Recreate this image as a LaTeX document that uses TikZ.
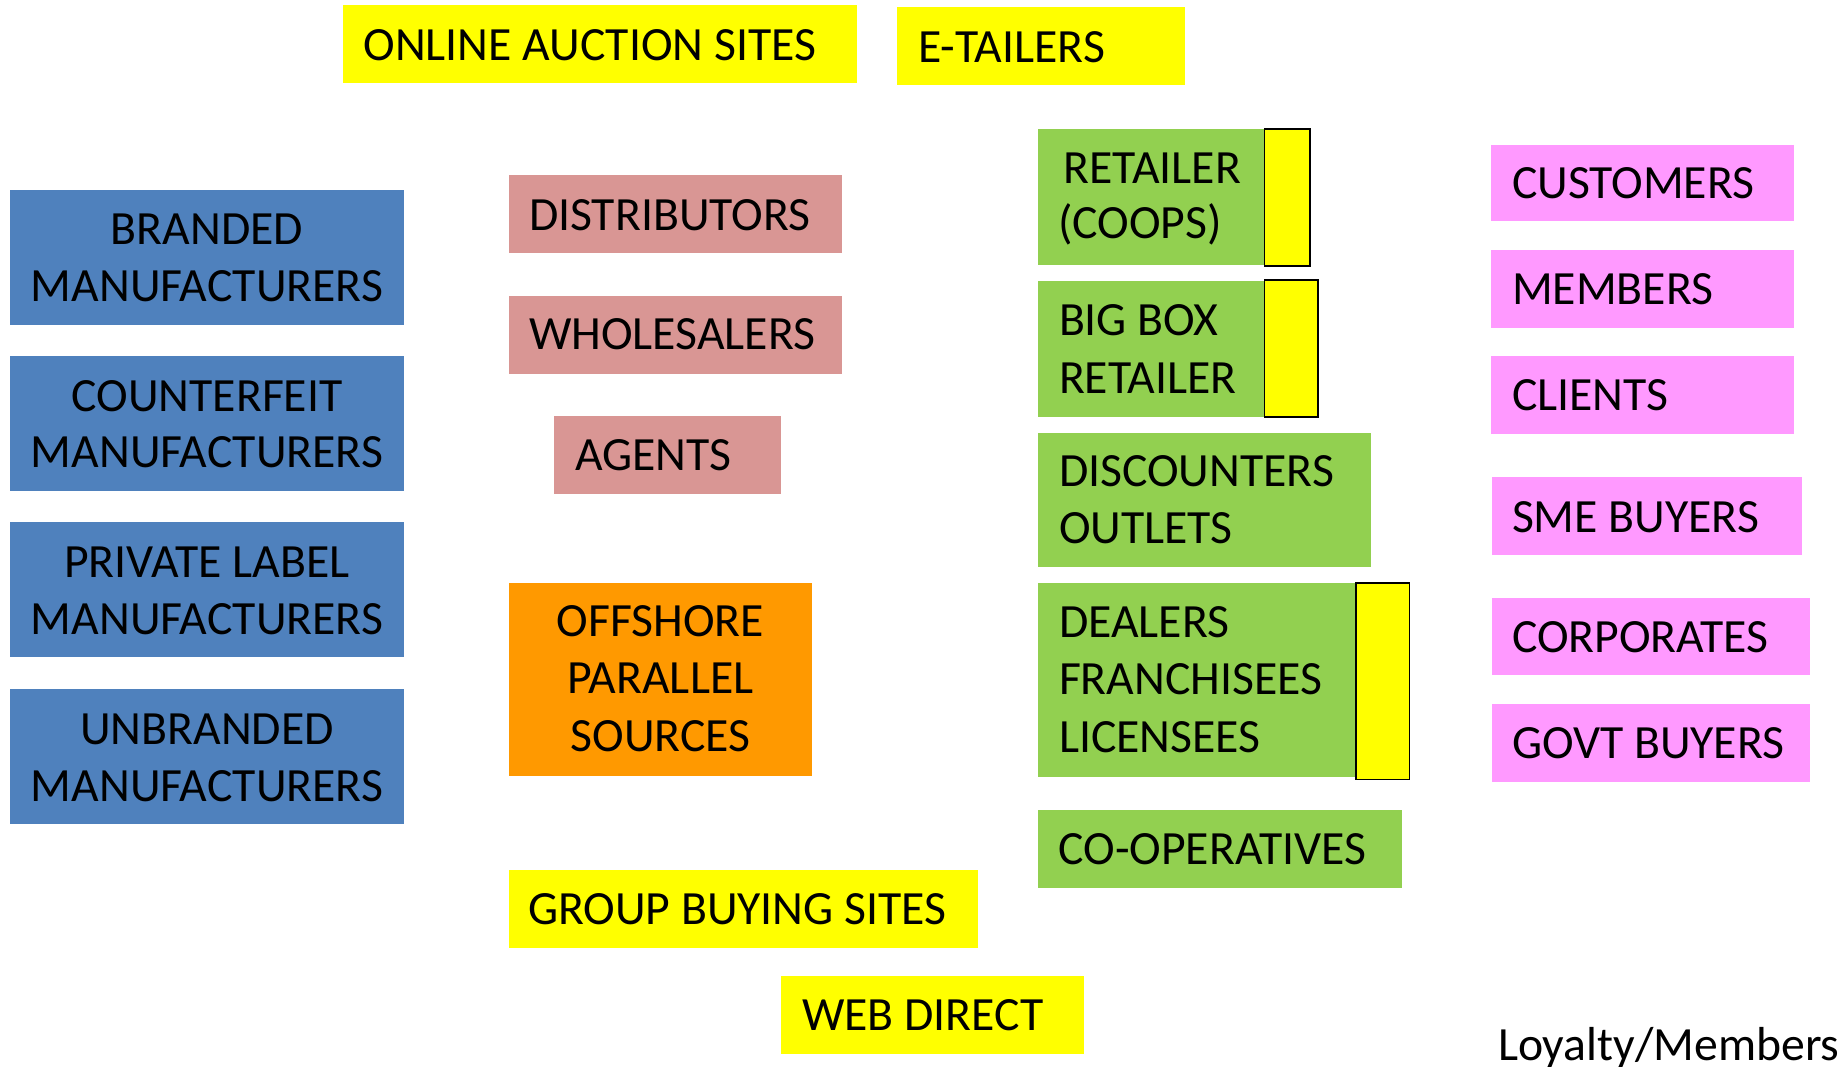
\documentclass[tikz,border=0pt]{standalone}
\usepackage{fontspec}
\setmainfont{Carlito}
\definecolor{cblue}{HTML}{4F81BD}
\definecolor{cpink}{HTML}{D99694}
\definecolor{corange}{HTML}{FF9900}
\definecolor{cgreen}{HTML}{92D050}
\definecolor{cyellow}{HTML}{FFFF00}
\definecolor{cmagenta}{HTML}{FF99FF}
\begin{document}
\begin{tikzpicture}[x=1pt,y=-1pt,
  blk/.style={inner sep=0pt, outer sep=0pt, anchor=north west},
  txt/.style={font=\fontsize{47.7}{57}\selectfont, inner sep=0pt, outer sep=0pt, anchor=base west},
  ctxt/.style={txt, anchor=base},
  tab/.style={fill=cyellow, draw=black, line width=1.8pt}]
\useasboundingbox (0,0) rectangle (1845,1067);
% helper: box from corner with size
\newcommand{\blkbox}[6]{\node[blk, fill=#2, minimum width=#5pt, minimum height=#6pt] (#1) at (#3,#4) {};}

% channel boxes along the top and bottom
\blkbox{auction}{cyellow}{343}{5}{514}{78}
\blkbox{etail}{cyellow}{897}{7}{288}{78}
\blkbox{group}{cyellow}{509}{870}{469}{78}
\blkbox{web}{cyellow}{781}{976}{303}{78}

% manufacturers
\blkbox{brand}{cblue}{10}{190}{394}{135}
\blkbox{counter}{cblue}{10}{356}{394}{135}
\blkbox{private}{cblue}{10}{522}{394}{135}
\blkbox{unbrand}{cblue}{10}{689}{394}{135}

% intermediaries
\blkbox{distrib}{cpink}{509}{175}{333}{78}
\blkbox{whole}{cpink}{509}{296}{333}{78}
\blkbox{agents}{cpink}{554}{416}{227}{78}
\blkbox{offshore}{corange}{509}{583}{303}{193}

% retail outlets
\blkbox{retail}{cgreen}{1038}{129}{262}{136}
\blkbox{bigbox}{cgreen}{1038}{281}{262}{136}
\blkbox{discount}{cgreen}{1038}{433}{333}{134}
\blkbox{dealers}{cgreen}{1038}{583}{372}{194}
\blkbox{coop}{cgreen}{1038}{810}{364}{78}

% yellow tabs on the outlets
\path[tab] (1264.5,129) rectangle (1310,266) node[midway] (tabA) {};
\path[tab] (1264.5,280) rectangle (1318,417) node[midway] (tabB) {};
\path[tab] (1356,583) rectangle (1409.5,779.5) node[midway] (tabC) {};

% end buyers
\blkbox{cust}{cmagenta}{1491}{145}{303}{76}
\blkbox{memb}{cmagenta}{1491}{250}{303}{78}
\blkbox{clients}{cmagenta}{1491}{356}{303}{78}
\blkbox{sme}{cmagenta}{1492}{477}{310}{78}
\blkbox{corp}{cmagenta}{1492}{598}{318}{77}
\blkbox{govt}{cmagenta}{1492}{704}{318}{78}

% labels
\node[txt] (auctionT) at (363.5,60.7) {ONLINE AUCTION SITES};
\node[txt] (etailT) at (918,62.3) {E-TAILERS};
\node[txt] (groupT) at (528,924.3) {GROUP BUYING SITES};
\node[txt] (webT) at (802,1030) {WEB DIRECT};

\node[ctxt] (brandT1) at (207,244.6) {BRANDED};
\node[ctxt] (brandT2) at (207,301.8) {MANUFACTURERS};
\node[ctxt] (counterT1) at (207,411) {COUNTERFEIT};
\node[ctxt] (counterT2) at (207,467.9) {MANUFACTURERS};
\node[ctxt] (privateT1) at (207,577) {PRIVATE LABEL};
\node[ctxt] (privateT2) at (207,634.4) {MANUFACTURERS};
\node[ctxt] (unbrandT1) at (207,744.6) {UNBRANDED};
\node[ctxt] (unbrandT2) at (207,801.8) {MANUFACTURERS};

\node[txt] (distribT) at (529,230.4) {DISTRIBUTORS};
\node[txt] (wholeT) at (529,349.6) {WHOLESALERS};
\node[txt] (agentsT) at (575,470) {AGENTS};
\node[ctxt] (offshoreT1) at (660.5,636.6) {OFFSHORE};
\node[ctxt] (offshoreT2) at (660.5,693.8) {PARALLEL};
\node[ctxt] (offshoreT3) at (660.5,751.8) {SOURCES};

\node[txt] (retailT1) at (1063.6,184) {RETAILER};
\node[txt] (retailT2) at (1058,238.4) {(COOPS)};
\node[txt] (bigboxT1) at (1059,335) {BIG BOX};
\node[txt] (bigboxT2) at (1059,393) {RETAILER};
\node[txt] (discountT1) at (1059,486) {DISCOUNTERS};
\node[txt] (discountT2) at (1059,543) {OUTLETS};
\node[txt] (dealersT1) at (1059,637) {DEALERS};
\node[txt] (dealersT2) at (1059,694.6) {FRANCHISEES};
\node[txt] (dealersT3) at (1059,752.7) {LICENSEES};
\node[txt] (coopT) at (1058.5,864.3) {CO-OPERATIVES};

\node[txt] (custT) at (1512,198.2) {CUSTOMERS};
\node[txt] (membT) at (1512,304.5) {MEMBERS};
\node[txt] (clientsT) at (1512,410.3) {CLIENTS};
\node[txt] (smeT) at (1512,532) {SME BUYERS};
\node[txt] (corpT) at (1512,652.7) {CORPORATES};
\node[txt] (govtT) at (1512,758.5) {GOVT BUYERS};

\node[txt] (loyalty) at (1498,1060) {Loyalty/Members};
\end{tikzpicture}
\end{document}
